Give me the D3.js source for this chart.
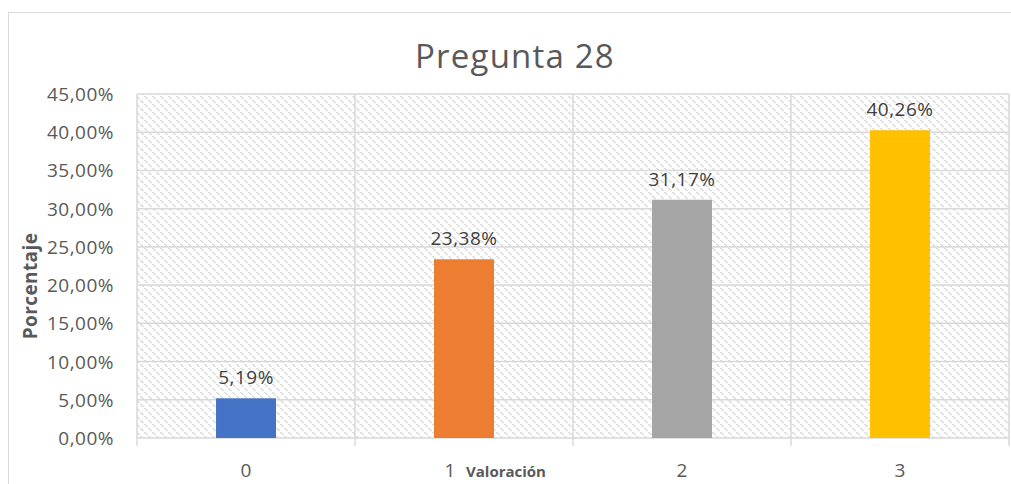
<!DOCTYPE html>
<html lang="es">
<head>
<meta charset="UTF-8">
<title>Pregunta 28</title>
<script src="https://cdnjs.cloudflare.com/ajax/libs/d3/7.8.5/d3.min.js"></script>
<style>
    body { margin: 0; background: #fff; }
    svg { display: block; font-family: "Open Sans", Arial, sans-serif; }
</style>
</head>
<body>
<div id="chart"></div>
<script>
// chart data
const categories = ["0", "1", "2", "3"];
const values = [5.19, 23.38, 31.17, 40.26];
const barColors = ["#4472C4", "#ED7D31", "#A5A5A5", "#FFC000"];
const yTicks = [0, 5, 10, 15, 20, 25, 30, 35, 40, 45];

const width = 1011, height = 484;
const margin = { top: 94, right: 2, bottom: 46, left: 137 };

const fmt = v => v.toFixed(2).replace(".", ",") + "%";

const svg = d3.select("#chart").append("svg")
    .attr("width", width)
    .attr("height", height);

// hatched plot background (dashed down-diagonal)
const pat = svg.append("defs").append("pattern")
    .attr("id", "hatch")
    .attr("patternUnits", "userSpaceOnUse")
    .attr("width", 8).attr("height", 8);
for (let r = 0; r < 8; r++) {
    if (r % 4 === 3) continue;
    pat.append("rect")
        .attr("x", r).attr("y", r)
        .attr("width", 2).attr("height", 1)
        .attr("fill", "#dcdcdc");
}

// outer chart border
svg.append("rect")
    .attr("x", 8.5).attr("y", 12.5)
    .attr("width", 1100).attr("height", 600)
    .attr("fill", "none")
    .attr("stroke", "#d9d9d9");

const x = d3.scaleBand()
    .domain(categories)
    .range([margin.left, width - margin.right])
    .paddingInner(0.725)
    .paddingOuter(0.3625);

const y = d3.scaleLinear()
    .domain([0, 45])
    .range([height - margin.bottom, margin.top]);

svg.append("rect")
    .attr("x", margin.left).attr("y", margin.top)
    .attr("width", width - margin.right - margin.left)
    .attr("height", y(0) - margin.top)
    .attr("fill", "url(#hatch)");

// horizontal gridlines
svg.append("g")
    .selectAll("line")
    .data(yTicks)
    .join("line")
    .attr("x1", margin.left).attr("x2", width - margin.right)
    .attr("y1", d => y(d)).attr("y2", d => y(d))
    .attr("stroke", "#d9d9d9")
    .attr("stroke-width", 1.5);

// vertical category separators
const step = x.step();
const seps = d3.range(categories.length + 1).map(i => margin.left + i * step);
svg.append("g")
    .selectAll("line")
    .data(seps)
    .join("line")
    .attr("x1", d => d).attr("x2", d => d)
    .attr("y1", margin.top).attr("y2", y(0) + 8)
    .attr("stroke", "#d9d9d9")
    .attr("stroke-width", 1.5);

// bars
svg.append("g")
    .selectAll("rect")
    .data(values)
    .join("rect")
    .attr("x", (d, i) => x(categories[i]))
    .attr("y", d => y(d))
    .attr("width", x.bandwidth())
    .attr("height", d => y(0) - y(d))
    .attr("fill", (d, i) => barColors[i]);

// data labels
svg.append("g")
    .selectAll("text")
    .data(values)
    .join("text")
    .attr("x", (d, i) => x(categories[i]) + x.bandwidth() / 2)
    .attr("y", d => y(d) - 14)
    .attr("text-anchor", "middle")
    .attr("font-size", 19)
    .attr("letter-spacing", 0.5)
    .attr("fill", "#404040")
    .text(d => fmt(d));

// y tick labels
svg.append("g")
    .selectAll("text")
    .data(yTicks)
    .join("text")
    .attr("x", 114)
    .attr("y", d => y(d) + 7)
    .attr("text-anchor", "end")
    .attr("font-size", 19)
    .attr("letter-spacing", 0.5)
    .attr("fill", "#595959")
    .text(d => fmt(d));

// x tick labels ("1" sits a bit left in the original)
const xLabelShift = [0, -14, 0, 0];
svg.append("g")
    .selectAll("text")
    .data(categories)
    .join("text")
    .attr("x", (d, i) => x(d) + x.bandwidth() / 2 + xLabelShift[i])
    .attr("y", 477)
    .attr("text-anchor", "middle")
    .attr("font-size", 19)
    .attr("fill", "#595959")
    .text(d => d);

// title
svg.append("text")
    .attr("x", 515).attr("y", 68)
    .attr("text-anchor", "middle")
    .attr("font-size", 33)
    .attr("letter-spacing", 1.2)
    .attr("fill", "#595959")
    .text("Pregunta 28");

// axis titles
svg.append("text")
    .attr("x", 506).attr("y", 477)
    .attr("text-anchor", "middle")
    .attr("font-size", 15)
    .attr("font-weight", "bold")
    .attr("fill", "#595959")
    .text("Valoración");

svg.append("text")
    .attr("transform", "translate(37,286) rotate(-90)")
    .attr("text-anchor", "middle")
    .attr("font-size", 19)
    .attr("letter-spacing", 0.4)
    .attr("font-weight", "bold")
    .attr("fill", "#595959")
    .text("Porcentaje");
</script>
</body>
</html>
